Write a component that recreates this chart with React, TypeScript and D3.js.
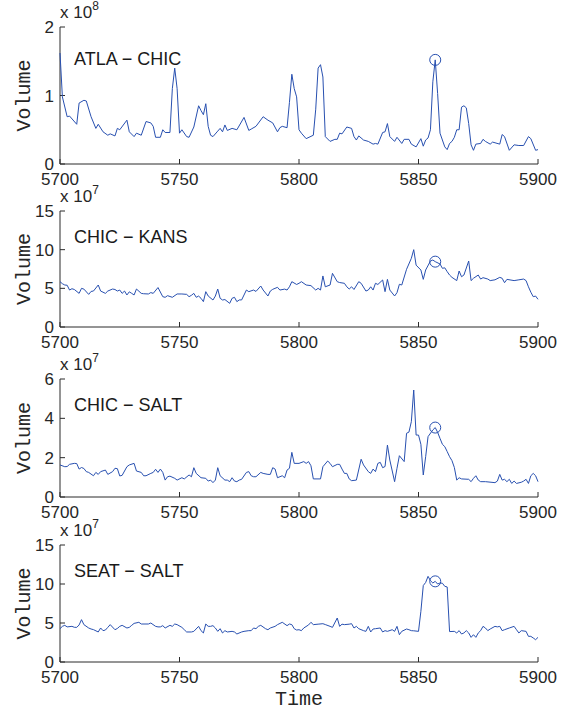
import React from "react";
import * as d3 from "d3";

const width = 561;
const height = 713;

// one entry per panel
const pairNames = ["ATLA − CHIC", "CHIC − KANS", "CHIC − SALT", "SEAT − SALT"];
const exponents = [8, 7, 7, 7];
const yMaxes = [2, 15, 6, 15];
const yTicks = [
  [0, 1, 2],
  [0, 5, 10, 15],
  [0, 2, 4, 6],
  [0, 5, 10, 15]
];
const xTicks = [5700, 5750, 5800, 5850, 5900];
const markTime = 5857;

// [time, volume / 10^exponent]
const atlaChic: [number, number][] = [
  [5700, 1.62], [5701, 0.98], [5703, 0.69], [5704, 0.7], [5707, 0.58], [5708, 0.89], [5710, 0.93],
  [5711, 0.92], [5713, 0.69], [5715, 0.52], [5716, 0.58], [5718, 0.47], [5720, 0.42], [5721, 0.44],
  [5723, 0.41], [5724, 0.52], [5725, 0.5], [5728, 0.64], [5729, 0.47], [5731, 0.4], [5732, 0.45],
  [5734, 0.42], [5736, 0.62], [5738, 0.6], [5739, 0.55], [5740, 0.39], [5742, 0.39], [5743, 0.5],
  [5744, 0.46], [5746, 0.46], [5747, 1.1], [5748, 1.4], [5749, 1.1], [5750, 0.45], [5751, 0.5],
  [5753, 0.4], [5754, 0.39], [5756, 0.54], [5758, 0.85], [5759, 0.78], [5760, 0.72], [5761, 0.88],
  [5762, 0.55], [5763, 0.42], [5764, 0.4], [5766, 0.48], [5767, 0.52], [5768, 0.47], [5769, 0.57],
  [5770, 0.49], [5772, 0.52], [5774, 0.5], [5777, 0.68], [5779, 0.49], [5780, 0.51], [5782, 0.55],
  [5785, 0.69], [5787, 0.64], [5789, 0.6], [5791, 0.47], [5792, 0.53], [5793, 0.55], [5795, 0.53],
  [5796, 0.9], [5797, 1.31], [5798, 1.1], [5799, 0.98], [5800, 0.5], [5801, 0.45], [5803, 0.37],
  [5806, 0.42], [5807, 0.8], [5808, 1.4], [5809, 1.45], [5810, 1.27], [5811, 0.4], [5813, 0.33],
  [5815, 0.36], [5816, 0.36], [5817, 0.45], [5818, 0.44], [5820, 0.54], [5822, 0.52], [5823, 0.4],
  [5824, 0.35], [5825, 0.41], [5827, 0.35], [5829, 0.33], [5831, 0.29], [5832, 0.3], [5833, 0.29],
  [5835, 0.46], [5836, 0.47], [5837, 0.59], [5838, 0.4], [5840, 0.33], [5841, 0.39], [5843, 0.3],
  [5844, 0.36], [5846, 0.36], [5847, 0.29], [5849, 0.25], [5851, 0.37], [5852, 0.26], [5853, 0.35],
  [5854, 0.38], [5855, 0.5], [5856, 1.2], [5857, 1.52], [5858, 1.03], [5859, 0.45], [5861, 0.25],
  [5862, 0.21], [5863, 0.3], [5864, 0.33], [5865, 0.39], [5866, 0.5], [5867, 0.5], [5868, 0.83],
  [5869, 0.85], [5870, 0.82], [5871, 0.59], [5872, 0.28], [5873, 0.2], [5874, 0.29], [5876, 0.3],
  [5877, 0.36], [5878, 0.33], [5880, 0.29], [5881, 0.32], [5884, 0.29], [5885, 0.43], [5886, 0.4],
  [5888, 0.2], [5890, 0.28], [5892, 0.27], [5894, 0.27], [5896, 0.4], [5897, 0.37], [5899, 0.2],
  [5900, 0.21]
];

const chicKans: [number, number][] = [
  [5700, 5.86], [5701, 5.6], [5702, 5.43], [5703, 5.4], [5704, 4.78], [5705, 4.95], [5706, 4.85],
  [5708, 4.35], [5709, 5.0], [5710, 4.9], [5712, 4.22], [5713, 4.6], [5714, 4.65], [5716, 5.43],
  [5717, 4.65], [5719, 4.35], [5720, 4.65], [5722, 4.91], [5723, 4.85], [5724, 4.65], [5725, 4.78],
  [5726, 4.35], [5727, 4.65], [5728, 4.14], [5729, 4.55], [5730, 4.35], [5731, 4.14], [5732, 4.91],
  [5734, 4.35], [5735, 4.3], [5737, 4.27], [5738, 4.45], [5739, 4.35], [5741, 5.1], [5743, 3.92],
  [5744, 3.84], [5745, 4.05], [5747, 3.84], [5749, 4.27], [5751, 4.27], [5753, 4.22], [5754, 3.92],
  [5755, 4.1], [5756, 4.35], [5757, 3.84], [5758, 4.0], [5759, 3.71], [5760, 3.28], [5761, 4.57],
  [5762, 4.01], [5764, 3.49], [5765, 4.0], [5766, 4.91], [5767, 3.71], [5768, 3.49], [5769, 3.55],
  [5771, 3.06], [5772, 3.71], [5773, 3.84], [5774, 3.28], [5775, 3.5], [5776, 3.5], [5778, 4.78],
  [5779, 4.57], [5781, 4.78], [5782, 4.6], [5784, 5.3], [5785, 4.78], [5787, 4.01], [5788, 4.65],
  [5789, 4.87], [5791, 5.13], [5792, 4.78], [5794, 4.9], [5795, 4.78], [5796, 5.2], [5797, 5.86],
  [5799, 5.5], [5800, 5.65], [5801, 5.86], [5803, 5.43], [5805, 5.35], [5807, 4.78], [5808, 5.0],
  [5809, 4.78], [5810, 6.6], [5811, 5.2], [5813, 5.43], [5814, 6.94], [5816, 5.86], [5817, 5.75],
  [5819, 5.65], [5820, 5.2], [5821, 4.91], [5822, 5.2], [5823, 4.85], [5825, 5.86], [5826, 5.65],
  [5828, 4.65], [5829, 4.78], [5830, 5.2], [5831, 4.78], [5832, 5.65], [5833, 5.5], [5835, 6.08],
  [5836, 4.57], [5837, 6.16], [5838, 4.78], [5840, 4.01], [5841, 4.44], [5842, 5.52], [5843, 5.43],
  [5845, 7.46], [5847, 8.88], [5848, 10.0], [5849, 8.0], [5851, 7.37], [5852, 6.16], [5853, 7.37],
  [5855, 8.53], [5856, 8.66], [5857, 8.45], [5859, 8.15], [5860, 7.59], [5861, 7.65], [5862, 7.16],
  [5863, 6.72], [5864, 6.42], [5866, 6.0], [5867, 7.24], [5868, 6.5], [5869, 6.72], [5871, 8.53],
  [5872, 6.0], [5873, 6.3], [5875, 6.72], [5876, 6.2], [5877, 6.38], [5879, 6.2], [5880, 6.0],
  [5882, 6.1], [5884, 6.42], [5885, 6.3], [5886, 5.73], [5887, 6.16], [5890, 6.0], [5892, 6.1],
  [5894, 6.2], [5895, 6.0], [5896, 5.2], [5897, 4.5], [5898, 3.92], [5899, 4.0], [5900, 3.58]
];

const chicSalt: [number, number][] = [
  [5700, 1.63], [5702, 1.54], [5703, 1.55], [5704, 1.66], [5706, 1.71], [5707, 1.7], [5708, 1.42],
  [5709, 1.5], [5710, 1.45], [5711, 1.29], [5712, 1.25], [5714, 1.08], [5715, 1.25], [5716, 1.15],
  [5717, 1.29], [5719, 1.37], [5720, 1.15], [5722, 1.29], [5723, 1.46], [5724, 1.44], [5725, 1.07],
  [5726, 1.1], [5728, 1.54], [5729, 1.63], [5731, 1.71], [5732, 1.32], [5734, 1.25], [5735, 1.08],
  [5736, 1.08], [5738, 1.2], [5739, 1.25], [5740, 1.41], [5741, 1.25], [5742, 1.42], [5743, 1.25],
  [5744, 0.86], [5745, 1.03], [5746, 1.06], [5748, 0.95], [5749, 0.86], [5751, 0.98], [5752, 0.92],
  [5754, 1.12], [5755, 1.03], [5756, 1.49], [5757, 1.2], [5759, 0.98], [5761, 0.95], [5762, 0.81],
  [5763, 0.86], [5764, 0.73], [5765, 0.86], [5766, 1.49], [5767, 1.08], [5769, 0.86], [5770, 0.86],
  [5771, 0.78], [5772, 0.98], [5773, 0.81], [5774, 0.78], [5775, 0.86], [5776, 0.9], [5778, 1.25],
  [5779, 1.29], [5780, 1.08], [5781, 1.03], [5782, 1.03], [5784, 1.25], [5785, 1.2], [5787, 1.15],
  [5788, 1.15], [5789, 1.49], [5790, 1.42], [5791, 0.98], [5793, 1.08], [5794, 0.98], [5795, 1.37],
  [5796, 1.46], [5797, 2.27], [5798, 1.71], [5800, 1.71], [5802, 1.8], [5803, 1.71], [5804, 1.8],
  [5805, 1.59], [5806, 0.92], [5809, 0.92], [5810, 1.54], [5812, 1.83], [5813, 1.71], [5814, 1.54],
  [5816, 1.66], [5817, 1.66], [5818, 1.42], [5819, 1.2], [5820, 1.2], [5821, 0.92], [5822, 0.83],
  [5824, 0.86], [5826, 1.92], [5827, 1.63], [5829, 1.29], [5830, 1.2], [5831, 1.42], [5832, 1.29],
  [5833, 1.71], [5834, 1.76], [5835, 1.49], [5836, 1.55], [5837, 2.64], [5838, 1.88], [5840, 0.78],
  [5841, 1.46], [5842, 2.1], [5844, 1.8], [5845, 3.24], [5846, 3.3], [5847, 3.83], [5848, 5.44],
  [5849, 3.15], [5850, 3.15], [5851, 2.68], [5852, 1.12], [5853, 2.05], [5854, 3.07], [5856, 3.41],
  [5857, 3.53], [5858, 3.29], [5859, 2.98], [5860, 2.68], [5861, 2.56], [5862, 2.31], [5863, 2.05],
  [5864, 1.85], [5865, 1.5], [5866, 0.86], [5867, 0.98], [5868, 0.92], [5871, 0.9], [5872, 0.78],
  [5873, 0.95], [5874, 1.08], [5875, 0.86], [5876, 0.78], [5878, 0.78], [5882, 0.73], [5883, 0.81],
  [5884, 1.15], [5885, 0.86], [5886, 0.9], [5887, 0.78], [5888, 0.9], [5889, 0.69], [5890, 0.81],
  [5891, 0.69], [5893, 0.75], [5894, 0.81], [5895, 0.9], [5896, 0.69], [5897, 1.08], [5898, 1.2],
  [5899, 1.08], [5900, 0.78]
];

const seatSalt: [number, number][] = [
  [5700, 4.27], [5701, 4.57], [5702, 4.7], [5703, 4.5], [5705, 4.57], [5706, 4.45], [5707, 4.44],
  [5708, 4.75], [5709, 5.43], [5710, 4.79], [5712, 4.36], [5713, 4.23], [5714, 4.15], [5716, 3.85],
  [5717, 4.36], [5718, 4.02], [5719, 4.1], [5720, 4.44], [5721, 4.79], [5723, 4.14], [5724, 4.3],
  [5725, 4.57], [5726, 4.7], [5728, 4.36], [5729, 4.44], [5730, 4.7], [5731, 4.95], [5733, 5.09],
  [5734, 4.87], [5737, 4.87], [5738, 5.0], [5740, 4.57], [5741, 4.5], [5742, 4.5], [5743, 4.66],
  [5744, 4.36], [5746, 4.7], [5747, 4.57], [5748, 4.87], [5749, 4.79], [5751, 4.44], [5752, 4.14],
  [5753, 3.85], [5755, 3.85], [5756, 3.93], [5758, 4.57], [5759, 4.02], [5760, 3.72], [5761, 4.87],
  [5762, 4.57], [5763, 4.57], [5764, 4.66], [5765, 4.36], [5766, 3.93], [5767, 4.27], [5768, 3.72],
  [5769, 4.02], [5770, 3.85], [5772, 3.93], [5773, 3.85], [5774, 3.59], [5776, 3.85], [5777, 3.93],
  [5779, 4.02], [5780, 4.02], [5781, 4.36], [5782, 4.27], [5783, 4.57], [5784, 4.7], [5786, 4.27],
  [5787, 4.14], [5788, 4.36], [5790, 4.57], [5791, 4.79], [5793, 5.09], [5795, 4.66], [5796, 4.87],
  [5797, 4.79], [5798, 4.27], [5799, 4.1], [5800, 4.14], [5801, 4.02], [5802, 4.36], [5804, 4.75],
  [5805, 5.09], [5806, 4.79], [5808, 4.85], [5810, 4.91], [5811, 4.8], [5813, 4.57], [5814, 4.44],
  [5816, 5.64], [5817, 4.57], [5818, 4.85], [5819, 4.79], [5821, 4.85], [5822, 4.91], [5823, 4.36],
  [5824, 4.57], [5825, 4.27], [5827, 4.02], [5828, 3.93], [5829, 4.57], [5830, 3.85], [5831, 4.23],
  [5832, 4.27], [5834, 4.36], [5835, 3.85], [5836, 4.02], [5837, 3.93], [5839, 4.14], [5840, 3.93],
  [5841, 4.57], [5842, 3.5], [5843, 3.93], [5845, 4.23], [5846, 4.14], [5847, 4.02], [5848, 4.0],
  [5850, 3.93], [5851, 6.5], [5852, 9.8], [5853, 10.2], [5854, 10.98], [5855, 10.43], [5856, 10.13],
  [5857, 10.34], [5858, 10.0], [5859, 10.13], [5860, 10.1], [5861, 9.7], [5862, 9.62], [5863, 3.9],
  [5865, 3.93], [5866, 3.72], [5867, 4.02], [5868, 3.59], [5869, 3.72], [5870, 4.02], [5871, 3.72],
  [5872, 3.16], [5873, 3.5], [5874, 3.16], [5875, 3.72], [5876, 4.02], [5877, 4.57], [5878, 4.36],
  [5879, 4.02], [5880, 4.23], [5882, 4.57], [5883, 4.5], [5884, 4.57], [5885, 4.02], [5886, 4.14],
  [5888, 4.36], [5890, 4.57], [5891, 4.14], [5892, 3.72], [5893, 4.02], [5895, 3.93], [5896, 3.29],
  [5897, 3.29], [5898, 3.08], [5899, 2.86], [5900, 3.16]
];

const allSeries = [atlaChic, chicKans, chicSalt, seatSalt];

// pixel box of each axes (the first one was drawn taller)
const panelTops = [27, 211, 379, 545];
const panelBottoms = [164, 327, 497, 662];
const left = 60;
const right = 538;

const lineColor = "#2850b0";
const axisColor = "#2b2b2b";
const sans = "'Liberation Sans', Arial, sans-serif";
const mono = "'Liberation Mono', 'Courier New', monospace";

const x = d3.scaleLinear().domain([5700, 5900]).range([left, right]);

function Panel({ i }: { i: number }) {
  const top = panelTops[i];
  const bottom = panelBottoms[i];
  const y = d3.scaleLinear().domain([0, yMaxes[i]]).range([bottom, top]);
  const data = allSeries[i];
  const line = d3
    .line<[number, number]>()
    .x((d) => x(d[0]))
    .y((d) => y(d[1]));
  const mark = data.find((d) => d[0] === markTime)!;

  return (
    <g>
      {/* axes lines */}
      <line x1={left} x2={left} y1={top} y2={bottom} stroke={axisColor} strokeWidth={1} />
      <line x1={left} x2={right} y1={bottom} y2={bottom} stroke={axisColor} strokeWidth={1} />
      {yTicks[i].map((t) => (
        <g key={"y" + t}>
          <line x1={left} x2={left + 5} y1={y(t)} y2={y(t)} stroke={axisColor} />
          <text
            x={left - 6}
            y={y(t)}
            dy="0.36em"
            textAnchor="end"
            fontFamily={sans}
            fontSize={17}
            fill="#262626"
          >
            {t}
          </text>
        </g>
      ))}
      {xTicks.map((t) => (
        <g key={"x" + t}>
          <line x1={x(t)} x2={x(t)} y1={bottom} y2={bottom - 5} stroke={axisColor} />
          <text
            x={x(t)}
            y={bottom + 21}
            textAnchor="middle"
            fontFamily={sans}
            fontSize={17}
            fill="#262626"
          >
            {t}
          </text>
        </g>
      ))}
      {/* exponent note */}
      <text x={left} y={top - 9} fontFamily={sans} fontSize={17} fill="#262626">
        x 10
        <tspan dy={-8} fontSize={12}>
          {exponents[i]}
        </tspan>
      </text>
      <text
        transform={`translate(30, ${(top + bottom) / 2}) rotate(-90)`}
        textAnchor="middle"
        fontFamily={mono}
        fontSize={20}
        fill="#262626"
      >
        Volume
      </text>
      <text x={74} y={y(yMaxes[i] * 0.725)} fontFamily={sans} fontSize={18} fill="#1a1a1a">
        {pairNames[i]}
      </text>
      <path d={line(data) || ""} fill="none" stroke={lineColor} strokeWidth={1} />
      <circle cx={x(mark[0])} cy={y(mark[1])} r={5.5} fill="none" stroke={lineColor} strokeWidth={1} />
    </g>
  );
}

export default function App() {
  return (
    <svg
      width={width}
      height={height}
      style={{ position: "absolute", left: 0, top: 0, background: "#fff" }}
    >
      {pairNames.map((_, i) => (
        <Panel key={i} i={i} />
      ))}
      <text
        x={(left + right) / 2}
        y={705}
        textAnchor="middle"
        fontFamily={mono}
        fontSize={20}
        fill="#262626"
      >
        Time
      </text>
    </svg>
  );
}
